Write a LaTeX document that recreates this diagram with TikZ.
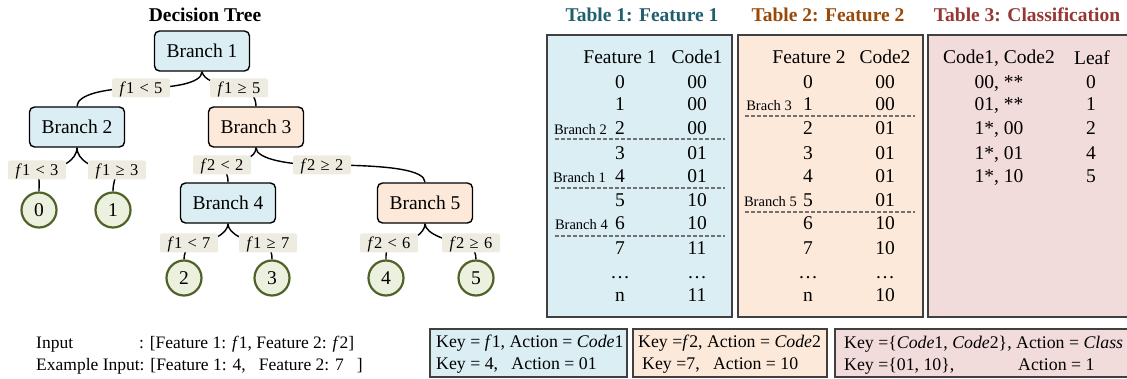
\documentclass[tikz,border=0pt]{standalone}
\usepackage{fontspec}
\setmainfont{Liberation Serif}
\usetikzlibrary{backgrounds}
\definecolor{bluefill}{HTML}{DAEEF3}
\definecolor{orangefill}{HTML}{FDE9D9}
\definecolor{pinkfill}{HTML}{F2DCDB}
\definecolor{leaffill}{HTML}{EBF1DE}
\definecolor{leafedge}{HTML}{4F6228}
\definecolor{condfill}{HTML}{EEECE1}
\definecolor{boxedge}{HTML}{404040}
\definecolor{dashgray}{HTML}{707070}
\definecolor{titleA}{HTML}{215F6E}
\definecolor{titleB}{HTML}{984807}
\definecolor{titleC}{HTML}{953735}
\newcommand{\mvar}[1]{\textit{#1}}
\newcommand{\rel}[1]{\hspace{0.32em}#1\hspace{0.32em}}
\begin{document}
\begin{tikzpicture}[x=1pt,y=-1pt,
  branch/.style={draw=black, line width=1.4pt, rounded corners=5pt, minimum width=95pt, minimum height=40pt, inner sep=0pt, font=\fontsize{19.5}{22}\selectfont},
  leaf/.style={circle, draw=leafedge, fill=leaffill, line width=2.2pt, minimum size=35pt, inner sep=0pt, font=\fontsize{19.5}{22}\selectfont},
  cond/.style={fill=condfill, rounded corners=2pt, minimum width=58pt, minimum height=19pt, inner sep=0pt, text height=10.5pt, text depth=0pt, font=\fontsize{16.5}{19}\selectfont},
  edge/.style={line width=1.4pt},
  cell/.style={inner sep=0pt, text height=12.9pt, text depth=0pt, font=\fontsize{19.5}{22}\selectfont},
  small/.style={inner sep=0pt, anchor=base east, font=\fontsize{14.5}{17}\selectfont},
  ttl/.style={inner sep=0pt, text height=12.9pt, text depth=0pt, font=\fontsize{19.5}{22}\selectfont\bfseries},
  tbox/.style={draw=boxedge, line width=1.6pt},
  sep/.style={draw=dashgray, line width=1.2pt, dash pattern=on 4pt off 2pt},
  keytxt/.style={inner sep=0pt, anchor=west, text height=11.7pt, text depth=0pt, font=\fontsize{17.8}{20}\selectfont},
  intxt/.style={inner sep=0pt, anchor=west, text height=11.5pt, text depth=0pt, font=\fontsize{17.5}{20}\selectfont}
]
\useasboundingbox (0,0) rectangle (1127,379);

% ---------- Decision tree ----------
\node[ttl] (tdt) at (205,15) {Decision Tree};
\node[branch, fill=bluefill] (b1) at (202,51) {Branch 1};
\node[branch, fill=bluefill] (b2) at (77,127) {Branch 2};
\node[branch, fill=orangefill] (b3) at (256,127) {Branch 3};
\node[branch, fill=bluefill] (b4) at (228,203) {Branch 4};
\node[branch, fill=orangefill] (b5) at (425,203) {Branch 5};

\node[leaf] (l0) at (39,210) {0};
\node[leaf] (l1) at (113,210) {1};
\node[leaf] (l2) at (184,278) {2};
\node[leaf] (l3) at (272,278) {3};
\node[leaf] (l4) at (386,278) {4};
\node[leaf] (l5) at (476,278) {5};

\node[cond] (c1) at (141,88) {\mvar{f}1\rel{<}5};
\node[cond] (c2) at (239,88) {\mvar{f}1\rel{≥}5};
\node[cond] (c3) at (37,170) {\mvar{f}1\rel{<}3};
\node[cond] (c4) at (117,170) {\mvar{f}1\rel{≥}3};
\node[cond] (c5) at (222,165) {\mvar{f}2\rel{<}2};
\node[cond] (c6) at (322,165) {\mvar{f}2\rel{≥}2};
\node[cond] (c7) at (189,243) {\mvar{f}1\rel{<}7};
\node[cond] (c8) at (268,243) {\mvar{f}1\rel{≥}7};
\node[cond] (c9) at (389,243) {\mvar{f}2\rel{<}6};
\node[cond] (c10) at (471,243) {\mvar{f}2\rel{≥}6};

\begin{scope}[on background layer]
\draw[edge] (b1.south) .. controls +(0,12) and +(30,0) .. (c1.center) .. controls +(-35,0) and +(0,-12) .. (b2.north);
\draw[edge] (b1.south) .. controls +(2,8) and +(-25,-4) .. (c2.center) .. controls +(12,0) and +(0,-8) .. (b3.north);
\draw[edge] (b2.south) .. controls +(0,12) and +(25,0) .. (c3.center) .. controls +(3,10) and +(0,-8) .. (l0.north);
\draw[edge] (b2.south) .. controls +(0,12) and +(-25,0) .. (c4.center) .. controls +(-2,10) and +(0,-8) .. (l1.north);
\draw[edge] (b3.south) .. controls +(0,10) and +(20,-3) .. (c5.center) .. controls +(4,8) and +(0,-8) .. (b4.north);
\draw[edge] (b3.south) .. controls +(0,12) and +(-30,0) .. (c6.center) .. controls +(70,0) and +(0,-12) .. (b5.north);
\draw[edge] (b4.south) .. controls +(0,10) and +(22,0) .. (c7.center) .. controls +(-3,8) and +(0,-6) .. (l2.north);
\draw[edge] (b4.south) .. controls +(0,10) and +(-22,0) .. (c8.center) .. controls +(3,8) and +(0,-6) .. (l3.north);
\draw[edge] (b5.south) .. controls +(0,10) and +(22,0) .. (c9.center) .. controls +(-3,8) and +(0,-6) .. (l4.north);
\draw[edge] (b5.south) .. controls +(0,10) and +(-22,0) .. (c10.center) .. controls +(3,8) and +(0,-6) .. (l5.north);
\end{scope}

% ---------- Tables ----------
\node[ttl, text=titleA] (tt1) at (642,15) {Table 1: Feature 1};
\node[ttl, text=titleB] (tt2) at (828,15) {Table 2: Feature 2};
\node[ttl, text=titleC] (tt3) at (1027,15) {Table 3: Classification};

\draw[tbox, fill=bluefill] (547,35) rectangle (732,317);
\draw[tbox, fill=orangefill] (738,35) rectangle (923,317);
\draw[tbox, fill=pinkfill] (928,35) rectangle (1140,317);

% Table 1
\node[cell] (t1h1) at (620,57) {Feature 1};
\node[cell] (t1h2) at (697,57) {Code1};
\foreach \v/\c/\yy [count=\i] in {0/00/82, 1/00/104, 2/00/128, 3/01/153, 4/01/176, 5/10/200, 6/10/223, 7/11/248, …/…/272, n/11/295}{
  \node[cell] (t1a\i) at (620,\yy) {\v};
  \node[cell] (t1b\i) at (697,\yy) {\c};
}
\node[small] (t1s1) at (607,134.5) {Branch 2};
\node[small] (t1s2) at (606,182.5) {Branch 1};
\node[small] (t1s3) at (608,229.5) {Branch 4};
\draw[sep] (555,139) -- (725,139);
\draw[sep] (555,188) -- (725,188);
\draw[sep] (555,236) -- (725,236);

% Table 2
\node[cell] (t2h1) at (809,57) {Feature 2};
\node[cell] (t2h2) at (885,57) {Code2};
\foreach \v/\c/\yy [count=\i] in {0/00/82, 1/00/104, 2/01/128, 3/01/153, 4/01/176, 5/01/200, 6/10/223, 7/10/248, …/…/272, n/10/295}{
  \node[cell] (t2a\i) at (808,\yy) {\v};
  \node[cell] (t2b\i) at (885,\yy) {\c};
}
\node[small] (t2s1) at (792,110.5) {Brach 3};
\node[small] (t2s2) at (797,206.5) {Branch 5};
\draw[sep] (745,116) -- (915,116);
\draw[sep] (745,212) -- (915,212);

% Table 3
\node[cell] (t3h1) at (999,57) {Code1, Code2};
\node[cell] (t3h2) at (1092,58) {Leaf};
\foreach \v/\c/\yy [count=\i] in {{00, **}/0/82, {01, **}/1/104, {1*, 00}/2/128, {1*, 01}/4/153, {1*, 10}/5/176}{
  \node[cell] (t3a\i) at (999,\yy) {\v};
  \node[cell] (t3b\i) at (1091,\yy) {\c};
}

% ---------- Bottom ----------
\node[intxt] (in1) at (36,343) {Input};
\node[intxt] (in2) at (139,343) {: [Feature 1: \mvar{f}1, Feature 2: \mvar{f}2]};
\node[intxt] (in3) at (36,365) {Example Input: [Feature 1: 4,\ \ \ Feature 2: 7\ \ \ ]};

\draw[tbox, fill=bluefill] (430,329) rectangle (627,377);
\draw[tbox, fill=orangefill] (633,329) rectangle (827,377);
\draw[tbox, fill=pinkfill] (835,329) rectangle (1140,377);

\node[keytxt] (k1a) at (436,342) {Key = \mvar{f}1, Action = \mvar{Code}1};
\node[keytxt] (k1b) at (436,364) {Key = 4,\ \ \ Action = 01};
\node[keytxt] (k2a) at (638,342) {Key =\mvar{f}2, Action = \mvar{Code}2};
\node[keytxt] (k2b) at (642,364) {Key =7,\ \ \ Action = 10};
\node[keytxt] (k3a) at (844,343) {Key =\{\mvar{Code}1, \mvar{Code}2\}, Action = \mvar{Class}};
\node[keytxt] (k3b) at (844,365) {Key =\{01, 10\},};
\node[keytxt] (k3c) at (1018,365) {Action = 1};
\end{tikzpicture}
\end{document}
